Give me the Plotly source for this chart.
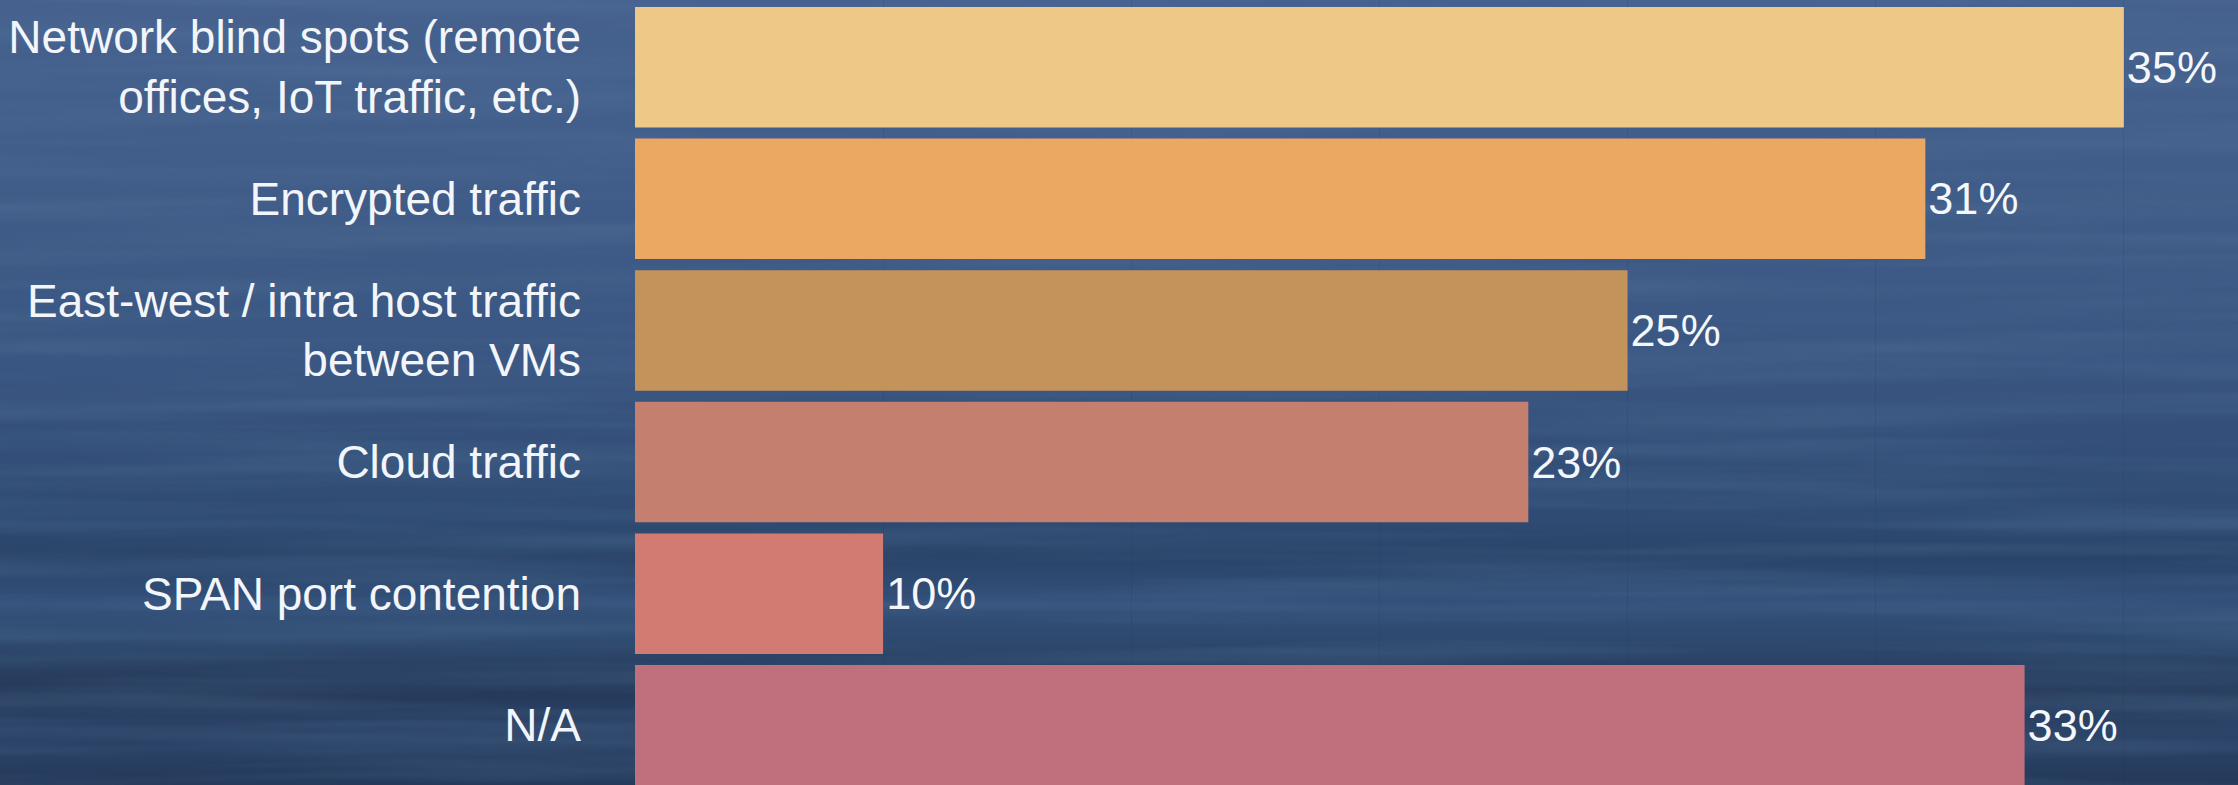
import base64
import plotly.graph_objects as go

categories = [
    "Network blind spots (remote<br>offices, IoT traffic, etc.)",
    "Encrypted traffic",
    "East-west / intra host traffic<br>between VMs",
    "Cloud traffic",
    "SPAN port contention",
    "N/A",
]
values = [35, 31, 25, 23, 10, 33]
value_labels = ["35%", "31%", "25%", "23%", "10%", "33%"]
bar_colors = ["#EEC886", "#EBA862", "#C4935C", "#C47F6E", "#D27B73", "#C0707D"]

W, H = 2238, 785
L = 635

svg = f"""<svg xmlns='http://www.w3.org/2000/svg' width='{W}' height='{H}' viewBox='0 0 {W} {H}' preserveAspectRatio='none'>
<defs>
<linearGradient id='g' x1='0' y1='0' x2='0' y2='1'>
<stop offset='0' stop-color='#46618e'/>
<stop offset='0.15' stop-color='#425e8b'/>
<stop offset='0.30' stop-color='#3e5a86'/>
<stop offset='0.45' stop-color='#3a5682'/>
<stop offset='0.55' stop-color='#34507a'/>
<stop offset='0.66' stop-color='#2f4b73'/>
<stop offset='0.71' stop-color='#2a4468'/>
<stop offset='0.77' stop-color='#33507a'/>
<stop offset='0.82' stop-color='#2d486c'/>
<stop offset='0.88' stop-color='#25395a'/>
<stop offset='0.93' stop-color='#2c4468'/>
<stop offset='1' stop-color='#243a5b'/>
</linearGradient>
<filter id='n' x='0' y='0' width='100%' height='100%'>
<feTurbulence type='fractalNoise' baseFrequency='0.0015 0.045' numOctaves='3' seed='7'/>
<feColorMatrix type='matrix' values='0 0 0 0 0.1  0 0 0 0 0.2  0 0 0 0 0.35  0 0 0 1.2 -0.45'/>
</filter>
</defs>
<rect width='{W}' height='{H}' fill='url(#g)'/>
<rect width='{W}' height='{H}' filter='url(#n)' opacity='0.5'/>
</svg>"""
bg_src = "data:image/svg+xml;base64," + base64.b64encode(svg.encode()).decode()

fig = go.Figure(
    go.Bar(
        y=categories,
        x=values,
        orientation="h",
        marker=dict(color=bar_colors, line=dict(width=0)),
        text=value_labels,
        textposition="outside",
        textfont=dict(family="Liberation Sans, Arial, sans-serif", size=45, color="#f4f7fb"),
        cliponaxis=False,
        hoverinfo="skip",
    )
)

plot_w = W - L
fig.update_layout(
    width=W,
    height=H,
    margin=dict(l=L, r=0, t=0, b=0, autoexpand=False),
    paper_bgcolor="#34507a",
    plot_bgcolor="rgba(0,0,0,0)",
    bargap=0.084,
    showlegend=False,
    font=dict(family="Liberation Sans, Arial, sans-serif", color="#f2f5f9"),
    images=[
        dict(
            source=bg_src,
            xref="paper",
            yref="paper",
            x=-L / plot_w,
            y=1,
            sizex=W / plot_w,
            sizey=1,
            sizing="stretch",
            xanchor="left",
            yanchor="top",
            layer="below",
        )
    ],
)
fig.update_xaxes(
    range=[5, 37.3],
    automargin=False,
    showgrid=True,
    gridcolor="rgba(15,30,55,0.10)",
    gridwidth=1,
    dtick=5,
    tick0=0,
    showticklabels=False,
    zeroline=False,
    showline=False,
)
fig.update_yaxes(
    type="category",
    range=[5.454, -0.511],
    automargin=False,
    showgrid=False,
    showline=False,
    zeroline=False,
    ticks="",
    ticklabelstandoff=53,
    tickfont=dict(family="Liberation Sans, Arial, sans-serif", size=46, color="#f2f5f9"),
)

fig.write_html(
    "out.html",
    config={"displayModeBar": False},
    post_script="document.body.style.margin='0';document.body.style.overflow='hidden';",
)
